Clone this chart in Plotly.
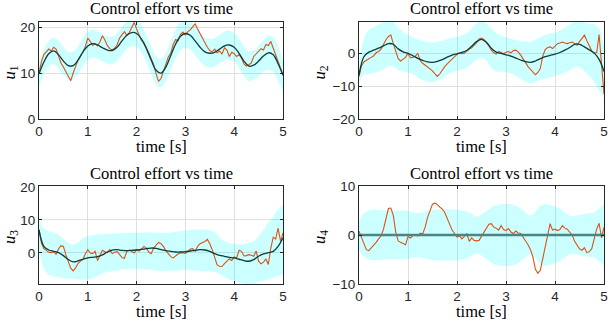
import numpy as np
import plotly.graph_objects as go

# time grids
t_fine = np.linspace(0, 5, 101)   # measured signal, 0.05 s
t_coarse = np.linspace(0, 5, 51)  # predicted mean / band, 0.1 s

# ---- u1 ----
u1_meas = [10.0, 12.5, 14.0, 14.6, 15.2, 14.8, 15.6, 15.2, 13.8, 12.2,
           11.3, 10.2, 9.4, 8.3, 10.0, 11.4, 12.8, 13.7, 14.5, 15.8,
           17.6, 16.9, 16.0, 16.4, 15.9, 16.8, 18.1, 17.2, 16.0, 15.3,
           15.0, 15.4, 16.1, 17.6, 18.4, 19.0, 18.2, 18.8, 19.9, 21.0,
           19.6, 18.3, 17.1, 16.6, 15.6, 14.4, 13.1, 11.8, 9.8, 8.2,
           8.8, 10.4, 12.4, 13.5, 14.3, 16.2, 17.3, 17.0, 18.4, 18.9,
           18.3, 19.0, 19.4, 20.1, 20.7, 19.6, 18.6, 17.4, 16.6, 15.6,
           14.9, 14.6, 15.2, 14.4, 14.8, 14.1, 15.5, 15.0, 13.6, 14.5,
           14.2, 13.6, 14.0, 13.2, 12.0, 11.5, 11.8, 12.2, 13.6, 14.2,
           14.8, 15.3, 15.0, 16.2, 16.0, 16.9, 15.4, 14.0, 12.8, 11.0, 9.6]
u1_mean = [9.8, 12.4, 14.2, 14.8, 14.0, 12.6, 11.6, 11.6, 12.8, 14.6,
           15.9, 16.4, 16.1, 15.5, 15.0, 14.9, 15.6, 17.0, 18.2, 18.8,
           18.6, 17.4, 15.3, 12.8, 10.6, 10.0, 11.3, 13.8, 16.3, 18.0,
           18.6, 18.2, 17.0, 15.6, 14.6, 14.3, 14.5, 15.2, 15.9, 16.1,
           15.6, 14.3, 12.6, 11.5, 11.7, 12.6, 13.7, 14.4, 14.0, 12.0, 9.5]
u1_hw = [2.6, 2.7, 2.8, 2.9, 3.0, 3.0, 3.0, 3.0, 3.0, 3.0,
         3.0, 3.0, 3.0, 3.0, 3.0, 3.0, 3.0, 3.0, 3.0, 3.0,
         3.0, 3.0, 3.0, 3.0, 3.1, 3.1, 3.1, 3.1, 3.1, 3.1,
         3.1, 3.1, 3.1, 3.1, 3.1, 3.1, 3.1, 3.1, 3.1, 3.1,
         3.1, 3.2, 3.2, 3.2, 3.2, 3.3, 3.5, 3.7, 3.8, 3.8, 3.4]

# ---- u2 ----
u2_meas = [-7.1, -3.8, -2.6, -2.0, -1.6, -1.2, -0.7, 0.2, 0.6, 1.3,
           2.8, 4.2, 5.2, 5.6, 3.0, 0.5, -1.6, -2.3, -1.8, -1.2,
           0.1, -1.3, -1.2, -0.8, 0.0, -2.2, -3.0, -3.6, -4.0, -4.6,
           -5.3, -6.2, -7.0, -6.2, -5.0, -4.0, -3.2, -2.4, -1.8, -1.0,
           -0.3, 0.2, -0.1, 0.1, 0.8, 1.4, 1.7, 2.4, 3.3, 4.4,
           4.7, 4.3, 3.4, 2.3, 1.0, 0.2, -0.2, 0.6, 0.3, -0.1,
           0.4, 0.6, 0.2, 0.9, 1.0, 0.5, -0.5, -1.5, -2.8, -4.0,
           -4.9, -5.6, -6.5, -5.8, -4.6, -0.8, 1.2, 1.8, 2.0, 1.5,
           2.4, 3.0, 3.2, 3.5, 3.2, 3.0, 3.3, 3.5, 3.0, 2.5,
           3.6, 4.7, 5.6, 3.9, 2.2, 0.8, 0.1, 0.3, 5.8, -4.0, -12.4]
u2_mean = [-6.6, -1.0, 0.4, 1.0, 1.6, 2.3, 3.0, 2.8, 1.4, 0.5,
           0.0, -0.7, -1.5, -2.1, -2.6, -2.7, -2.4, -1.9, -1.1, -0.5,
           -0.1, 0.3, 0.9, 2.2, 3.6, 4.3, 3.4, 1.6, 0.4, 0.0,
           -0.4, -0.8, -1.4, -2.0, -2.5, -2.7, -2.3, -1.6, -1.0, -0.6,
           -0.2, 0.3, 1.0, 1.8, 2.8, 2.8, 2.0, 1.1, 0.1, -1.8, -5.5]
u2_hw = [2.5, 5.5, 6.8, 7.0, 7.2, 7.2, 7.0, 6.8, 6.5, 6.0,
         5.7, 5.6, 5.8, 6.0, 6.1, 6.1, 6.0, 5.8, 5.5, 5.3,
         5.2, 5.2, 5.3, 5.4, 5.5, 5.5, 5.6, 6.0, 5.8, 5.5,
         5.3, 5.3, 5.5, 5.8, 6.1, 6.3, 6.4, 6.5, 6.6, 6.7,
         6.7, 6.7, 6.8, 7.0, 7.0, 7.0, 7.4, 8.0, 8.8, 9.5, 8.0]

# ---- u3 ----
u3_meas = [7.1, 3.0, 1.3, 0.6, 0.2, 0.1, 0.4, -0.4, 1.2, 2.2,
           2.0, -0.5, -2.5, -4.6, -5.4, -4.5, -3.2, -2.4, -2.0, -0.2,
           1.0, 0.0, -0.2, 0.5, -2.3, -0.5, 0.8, 0.4, 0.1, 1.0,
           -0.2, 0.2, 0.4, -0.4, -1.4, -1.6, 0.5, 0.9, 0.5, 0.0,
           1.0, 0.6, 1.2, 2.0, 1.5, 0.3, -0.2, 1.5, 2.4, 3.2,
           2.8, 2.0, 0.7, -0.3, -1.1, -1.5, -0.8, -0.3, 0.0, 0.1,
           -0.1, 0.4, 1.2, 1.3, 0.5, 2.0, 2.8, 3.1, 3.5, 4.1,
           2.8, 1.0, -1.0, -3.6, -4.0, -4.1, -3.2, -2.5, -1.8, -2.3,
           -1.2, -1.5, 0.8, 0.5, -0.9, -0.8, -0.5, -0.7, -1.0, 0.6,
           -2.5, -3.3, -2.8, -1.8, -3.5, 1.5, 4.8, 4.2, 7.5, 3.6, 6.1]
u3_mean = [7.0, 2.0, 0.9, 0.5, 0.1, -0.8, -2.0, -2.7, -2.4, -1.9,
           -1.5, -1.3, -1.1, -0.6, 0.3, 0.9, 1.0, 0.8, 0.7, 0.8,
           0.9, 1.1, 1.3, 1.5, 1.4, 1.0, 0.7, 0.5, 0.3, 0.3,
           0.4, 0.6, 0.8, 1.0, 0.9, 0.5, -0.2, -0.7, -1.0, -1.3,
           -1.5, -1.9, -2.3, -2.5, -2.0, -1.0, -0.3, 0.1, 0.5, 2.0, 4.6]
u3_hi = [10.2, 7.5, 6.7, 6.2, 5.5, 4.3, 3.0, 2.5, 3.2, 4.5,
         5.1, 5.4, 5.6, 5.7, 5.8, 5.9, 6.0, 6.0, 6.1, 6.1,
         6.1, 6.2, 6.3, 6.3, 6.2, 6.1, 6.1, 6.2, 6.4, 6.6,
         6.8, 7.0, 7.1, 7.1, 7.1, 6.9, 6.3, 4.8, 3.6, 3.0,
         2.7, 2.6, 2.7, 3.0, 3.6, 5.1, 7.0, 9.2, 11.0, 13.2, 14.5]
u3_lo = [1.5, -4.8, -6.5, -7.1, -7.4, -7.6, -7.7, -7.8, -8.0, -8.1,
         -8.0, -7.7, -7.0, -6.3, -5.8, -5.5, -5.2, -5.0, -4.9, -4.8,
         -4.8, -4.9, -5.0, -5.1, -5.3, -5.4, -5.4, -5.4, -5.3, -5.2,
         -5.1, -5.2, -5.3, -5.5, -5.6, -5.6, -5.8, -6.4, -7.2, -8.0,
         -8.5, -9.0, -9.4, -9.6, -9.4, -8.8, -8.4, -8.0, -7.6, -7.0, -6.5]

# ---- u4 ----
u4_meas = [0.8, -0.6, -1.8, -3.0, -3.2, -2.7, -2.2, -1.5, -0.8, -0.2,
           1.2, 3.2, 5.4, 5.5, 4.0, 0.6, -1.2, -1.5, -1.8, -2.0,
           -0.3, -0.6, -0.1, 0.1, -0.2, 0.4, 0.2, 1.6, 3.6, 5.2,
           6.3, 6.5, 6.2, 5.7, 5.3, 4.6, 3.4, 2.3, 1.0, 0.3,
           -0.4, -0.2, -0.8, -0.3, 0.3, -1.3, -0.6, -1.1, -1.2, -1.1,
           -0.2, 0.6, 1.4, 2.2, 2.3, 1.6, 1.4, 1.0, 1.9, 1.1,
           0.9, 1.3, 0.6, 0.3, 0.8, 0.4, 0.3, -0.4, -1.2, -2.0,
           -3.0, -4.5, -7.0, -7.8, -7.2, -4.8, -2.0, -0.2, 2.3, 1.0,
           1.2, 0.9, 1.1, 1.9, 1.4, 1.2, 0.7, 0.0, -1.3, -2.1,
           -2.8, -3.1, -2.6, -3.6, -3.4, -2.8, -0.6, 1.2, 2.4, -0.6, 1.6]
u4_mean = [0.0] * 51
u4_hw = [3.0, 4.4, 5.0, 5.2, 5.1, 5.0, 5.0, 5.0, 5.0, 5.0,
         4.9, 4.6, 4.5, 4.6, 5.0, 5.1, 5.2, 5.2, 5.2, 5.2,
         5.2, 5.0, 4.8, 4.3, 3.7, 4.2, 4.9, 5.6, 6.1, 6.3,
         6.4, 6.3, 6.0, 5.4, 4.6, 4.0, 4.8, 6.0, 6.3, 6.1,
         5.8, 5.4, 4.6, 4.0, 3.9, 4.1, 4.3, 4.5, 4.6, 5.4, 6.2]

panels = [
    dict(meas=u1_meas, mean=u1_mean,
         lo=[m - h for m, h in zip(u1_mean, u1_hw)], hi=[m + h for m, h in zip(u1_mean, u1_hw)],
         yr=[0, 21.1], yt=[0, 10, 20], name="1"),
    dict(meas=u2_meas, mean=u2_mean,
         lo=[m - h for m, h in zip(u2_mean, u2_hw)], hi=[m + h for m, h in zip(u2_mean, u2_hw)],
         yr=[-20, 9.6], yt=[-20, -10, 0], name="2"),
    dict(meas=u3_meas, mean=u3_mean, lo=u3_lo, hi=u3_hi,
         yr=[-9.4, 20.3], yt=[0, 10, 20], name="3"),
    dict(meas=u4_meas, mean=u4_mean,
         lo=[m - h for m, h in zip(u4_mean, u4_hw)], hi=[m + h for m, h in zip(u4_mean, u4_hw)],
         yr=[-10, 10], yt=[-10, 0, 10], name="4"),
]

W, H = 616, 329
xdoms = [[39 / W, 283 / W], [359 / W, 604 / W]]
ydoms = [[(H - 119) / H, (H - 22) / H], [(H - 284) / H, (H - 186) / H]]

band_col = "rgba(0,255,255,0.2)"
meas_col = "#D95319"
mean_col = "#0d3d3d"
ax_col = "#262626"
grid_col = "#dfdfdf"
serif = "Liberation Serif"

fig = go.Figure()
annotations = []

for i, p in enumerate(panels):
    r, c = divmod(i, 2)
    k = "" if i == 0 else str(i + 1)
    xa, ya = "x" + k, "y" + k
    # band
    fig.add_trace(go.Scatter(x=t_coarse, y=p["lo"], xaxis=xa, yaxis=ya, mode="lines",
                             line=dict(width=0, shape="spline"), showlegend=False, hoverinfo="skip"))
    fig.add_trace(go.Scatter(x=t_coarse, y=p["hi"], xaxis=xa, yaxis=ya, mode="lines",
                             line=dict(width=0, shape="spline"), fill="tonexty",
                             fillcolor=band_col, showlegend=False, hoverinfo="skip"))
    # measured
    fig.add_trace(go.Scatter(x=t_fine, y=p["meas"], xaxis=xa, yaxis=ya, mode="lines",
                             line=dict(color=meas_col, width=1.1), showlegend=False))
    # mean (flat u4 line looks wider/lighter in the original)
    if i == 3:
        mline = dict(color="#4a8585", width=2.4, shape="spline")
    else:
        mline = dict(color=mean_col, width=1.3, shape="spline")
    fig.add_trace(go.Scatter(x=t_coarse, y=p["mean"], xaxis=xa, yaxis=ya, mode="lines",
                             line=mline, showlegend=False))

    common = dict(showgrid=True, gridcolor=grid_col, gridwidth=1, zeroline=False,
                  showline=True, linecolor=ax_col, linewidth=1, mirror="ticks",
                  ticks="inside", ticklen=3, tickcolor=ax_col, automargin=False,
                  tickfont=dict(family="Liberation Sans", size=13.5, color=ax_col))
    fig.update_layout(**{
        "xaxis" + k: dict(domain=xdoms[c], anchor=ya, range=[0, 5],
                          tickvals=[0, 1, 2, 3, 4, 5], **common),
        "yaxis" + k: dict(domain=ydoms[r], anchor=xa, range=p["yr"],
                          tickvals=p["yt"], **common),
    })

    xc = (xdoms[c][0] + xdoms[c][1]) / 2
    ytop = [22, 186][r]
    ybot = [119, 284][r]
    annotations.append(dict(text="Control effort vs time", x=xc, y=1 - (ytop - 13) / H,
                            xref="paper", yref="paper", showarrow=False,
                            font=dict(family=serif, size=16.5, color="black"),
                            xanchor="center", yanchor="middle"))
    annotations.append(dict(text="time [s]", x=xc, y=1 - (ybot + 27) / H,
                            xref="paper", yref="paper", showarrow=False,
                            font=dict(family=serif, size=16.5, color="black"),
                            xanchor="center", yanchor="middle"))
    annotations.append(dict(text="<i>u</i><sub>" + p["name"] + "</sub>",
                            x=[10, 320][c] / W, y=1 - ((ytop + ybot) / 2 + 2) / H,
                            xref="paper", yref="paper", showarrow=False, textangle=-90,
                            font=dict(family=serif, size=16.5, color="black"),
                            xanchor="center", yanchor="middle"))

fig.update_layout(width=W, height=H, margin=dict(l=0, r=0, t=0, b=0, autoexpand=False),
                  plot_bgcolor="white", paper_bgcolor="white",
                  annotations=annotations)

fig.write_html("out.html", config={"displayModeBar": False},
               post_script="document.body.style.margin='0';")
